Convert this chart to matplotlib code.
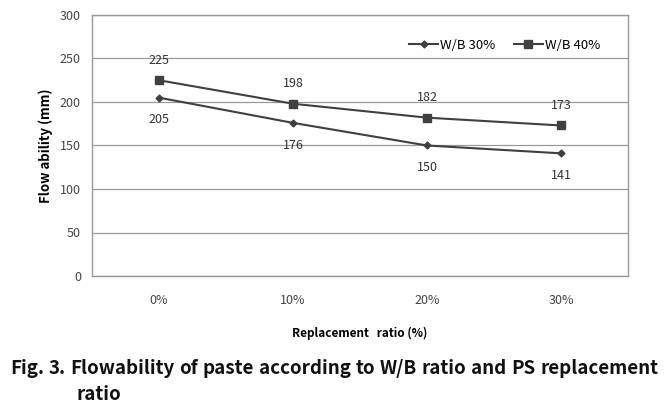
import matplotlib
matplotlib.use("Agg")
import matplotlib.pyplot as plt

categories = ["0%", "10%", "20%", "30%"]
wb30 = [205, 176, 150, 141]
wb40 = [225, 198, 182, 173]
yticks = [0, 50, 100, 150, 200, 250, 300]
caption1 = "Fig. 3. Flowability of paste according to W/B ratio and PS replacement"
caption2 = "ratio"

plt.rcParams['font.family'] = ['Noto Sans CJK KR', 'DejaVu Sans']

fig = plt.figure(figsize=(6.66, 4.07), dpi=100)
ax = fig.add_axes([92/666, 1 - 276/407, 536/666, 261/407])

x = [i + 0.5 for i in range(len(categories))]
line_col = '#404040'
ax.plot(x, wb30, color=line_col, lw=1.5, marker='D', ms=3.5, label='W/B 30%')
ax.plot(x, wb40, color=line_col, lw=1.5, marker='s', ms=6, label='W/B 40%')

for xi, v in zip(x, wb30):
    ax.annotate(str(v), (xi, v), xytext=(0, -16), textcoords='offset points',
                ha='center', va='center', fontsize=9, color='#333333')
for xi, v in zip(x, wb40):
    ax.annotate(str(v), (xi, v), xytext=(0, 14.5), textcoords='offset points',
                ha='center', va='center', fontsize=9, color='#333333')

ax.set_xlim(0, 4)
ax.set_ylim(0, 300)
ax.set_yticks(yticks)
ax.set_xticks(x)
ax.set_xticklabels(categories)
ax.tick_params(length=0, labelsize=9, colors='#444444')
ax.tick_params(axis='x', pad=13)
ax.tick_params(axis='y', pad=8)
ax.grid(axis='y', color='#999999', lw=0.9)
ax.set_axisbelow(True)
for s in ax.spines.values():
    s.set_color('#999999')
    s.set_linewidth(1.0)

ax.set_ylabel("Flow ability (mm)", fontsize=9.5, fontweight='bold', labelpad=5)
ax.set_xlabel("Replacement   ratio (%)", fontsize=8.5, fontweight='bold', labelpad=14)

ax.legend(loc='upper right', bbox_to_anchor=(0.97, 0.955), ncol=2, frameon=False,
          fontsize=9.5, handlelength=2.2, handletextpad=0.15, columnspacing=1.4)

# justified caption, first line spread from left to right edge
renderer = fig.canvas.get_renderer()
left, right = 10, 658
y1 = 1 - 369/407
words = caption1.split()
texts = [fig.text(0, y1, w, fontsize=13.5, fontweight='bold', ha='left', va='center',
                  color='#111111') for w in words]
widths = [t.get_window_extent(renderer).width for t in texts]
gap = (right - left - sum(widths)) / (len(words) - 1)
pos = left
for t, w in zip(texts, widths):
    t.set_x(pos / 666)
    pos += w + gap
fig.text(77/666, 1 - 394/407, caption2, fontsize=13.5, fontweight='bold',
         ha='left', va='center', color='#111111')

fig.savefig("out.png", dpi=100)
